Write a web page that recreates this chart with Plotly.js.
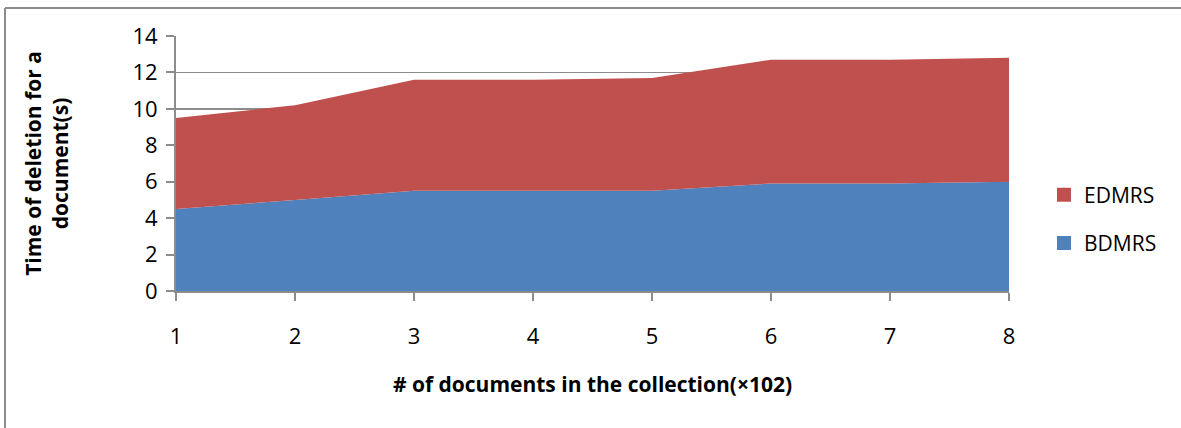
<!DOCTYPE html>
<html>
<head>
<meta charset="utf-8">
<script src="https://cdn.plot.ly/plotly-3.0.1.min.js"></script>
<style>html,body{margin:0;padding:0;background:#fff;overflow:hidden;}#chart{width:1181px;height:428px;}</style>
</head>
<body>
<div id="chart"></div>
<script>
const categories = [1, 2, 3, 4, 5, 6, 7, 8];
const bdmrs = [4.5, 5.0, 5.5, 5.5, 5.5, 5.9, 5.9, 6.0];
const edmrs = [5.0, 5.2, 6.1, 6.1, 6.2, 6.8, 6.8, 6.8];
const seriesNames = ["BDMRS", "EDMRS"];
const seriesColors = ["#4F81BD", "#C0504D"];

const FONT = "'Open Sans', Lato, 'Liberation Sans', sans-serif";

const traces = [
  {x: categories, y: bdmrs, name: seriesNames[0], type: "scatter", mode: "none",
   stackgroup: "one", fillcolor: seriesColors[0], showlegend: false, hoverinfo: "x+y"},
  {x: categories, y: edmrs, name: seriesNames[1], type: "scatter", mode: "none",
   stackgroup: "one", fillcolor: seriesColors[1], showlegend: false, hoverinfo: "x+y"},
  {x: [null], y: [null], name: seriesNames[1], type: "scatter", mode: "markers",
   marker: {symbol: "square", size: 14, color: seriesColors[1]}, legendgroup: "e", showlegend: true},
  {x: [null], y: [null], name: seriesNames[0], type: "scatter", mode: "markers",
   marker: {symbol: "square", size: 14, color: seriesColors[0]}, legendgroup: "b", showlegend: true}
];

const layout = {
  width: 1181, height: 428,
  margin: {l: 176, r: 172, t: 36, b: 137, pad: 0, autoexpand: false},
  paper_bgcolor: "#ffffff", plot_bgcolor: "#ffffff",
  font: {family: FONT, size: 21, color: "#000"},
  showlegend: true,
  legend: {x: 1.042, y: 0.282, xanchor: "left", yanchor: "middle",
           traceorder: "grouped", tracegroupgap: 18, itemwidth: 30,
           font: {family: FONT, size: 21, color: "#000"}, bgcolor: "rgba(0,0,0,0)"},
  xaxis: {
    range: [1, 8], tickvals: categories, ticktext: categories.map(String),
    showgrid: false, zeroline: false, showline: true, linecolor: "#8c8c8c", linewidth: 2,
    ticks: "outside", ticklen: 8, tickcolor: "#8c8c8c", tickwidth: 2,
    ticklabelstandoff: 17,
    tickfont: {family: FONT, size: 22, color: "#000"},
    title: {text: "<b># of documents in the collection(×102)</b>", standoff: 28,
            font: {family: FONT, size: 21, color: "#000"}},
    fixedrange: true
  },
  yaxis: {
    range: [0, 14], dtick: 2, tick0: 0,
    showgrid: true, gridcolor: "#8c8c8c", gridwidth: 1.5,
    zeroline: false, showline: true, linecolor: "#8c8c8c", linewidth: 2,
    ticks: "outside", ticklen: 8, tickcolor: "#8c8c8c", tickwidth: 2,
    ticklabelstandoff: 4,
    tickfont: {family: FONT, size: 22, color: "#000"},
    title: {text: "<b>Time of deletion for a<br>document(s)</b>", standoff: 58,
            font: {family: FONT, size: 21, color: "#000"}},
    fixedrange: true
  },
  shapes: [
    {type: "line", xref: "paper", yref: "paper", x0: -0.2053, x1: -0.2053, y0: -0.7, y1: 1.1098,
     line: {color: "#8c8c8c", width: 2}, layer: "below"},
    {type: "line", xref: "paper", yref: "paper", x0: -0.2053, x1: 1.3, y0: 1.1098, y1: 1.1098,
     line: {color: "#8c8c8c", width: 2}, layer: "below"}
  ]
};

Plotly.newPlot("chart", traces, layout, {displayModeBar: false, staticPlot: true});
</script>
</body>
</html>
